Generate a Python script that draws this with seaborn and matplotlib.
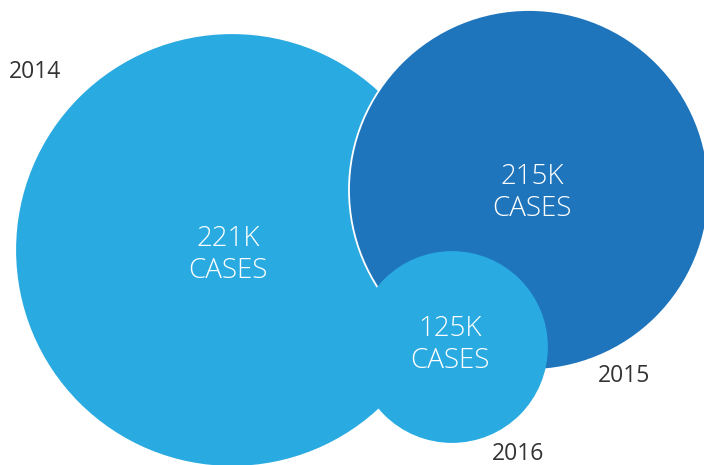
import matplotlib
matplotlib.use("Agg")
import matplotlib.pyplot as plt
from matplotlib.patches import Circle
import seaborn as sns

# data
years = ["2014", "2015", "2016"]
cases_k = [221, 215, 125]

# layout (pixels, origin top-left)
cx = [232, 529, 452]
cy = [250, 190, 347]
rad = [215, 180, 95]
label_pos = [(228, 255), (532, 193), (450, 345)]
year_pos = [(35, 72), (624, 376), (518, 454)]
colors = ["#29AAE1", "#1F75BC", "#29AAE1"]
edges = ["#29AAE1", "white", "#29AAE1"]

sns.set_theme(style="white")
plt.rcParams["font.family"] = ["Open Sans", "Lato", "DejaVu Sans"]

fig = plt.figure(figsize=(7.04, 4.65), dpi=100)
ax = fig.add_axes([0, 0, 1, 1])
ax.set_xlim(0, 704)
ax.set_ylim(465, 0)
ax.set_aspect("equal")
ax.axis("off")

for i in range(len(years)):
    ax.add_patch(Circle((cx[i], cy[i]), rad[i], facecolor=colors[i],
                        edgecolor=edges[i], linewidth=1.3, zorder=2 + i))
    ax.text(label_pos[i][0], label_pos[i][1], f"{cases_k[i]}K\nCASES", color="white",
            fontsize=20, fontweight="light", ha="center", va="center",
            linespacing=1.2, zorder=10)
    ax.text(year_pos[i][0], year_pos[i][1], years[i], color="#333333",
            fontsize=16.5, ha="center", va="center", zorder=10)

fig.savefig("out.png", dpi=100)
